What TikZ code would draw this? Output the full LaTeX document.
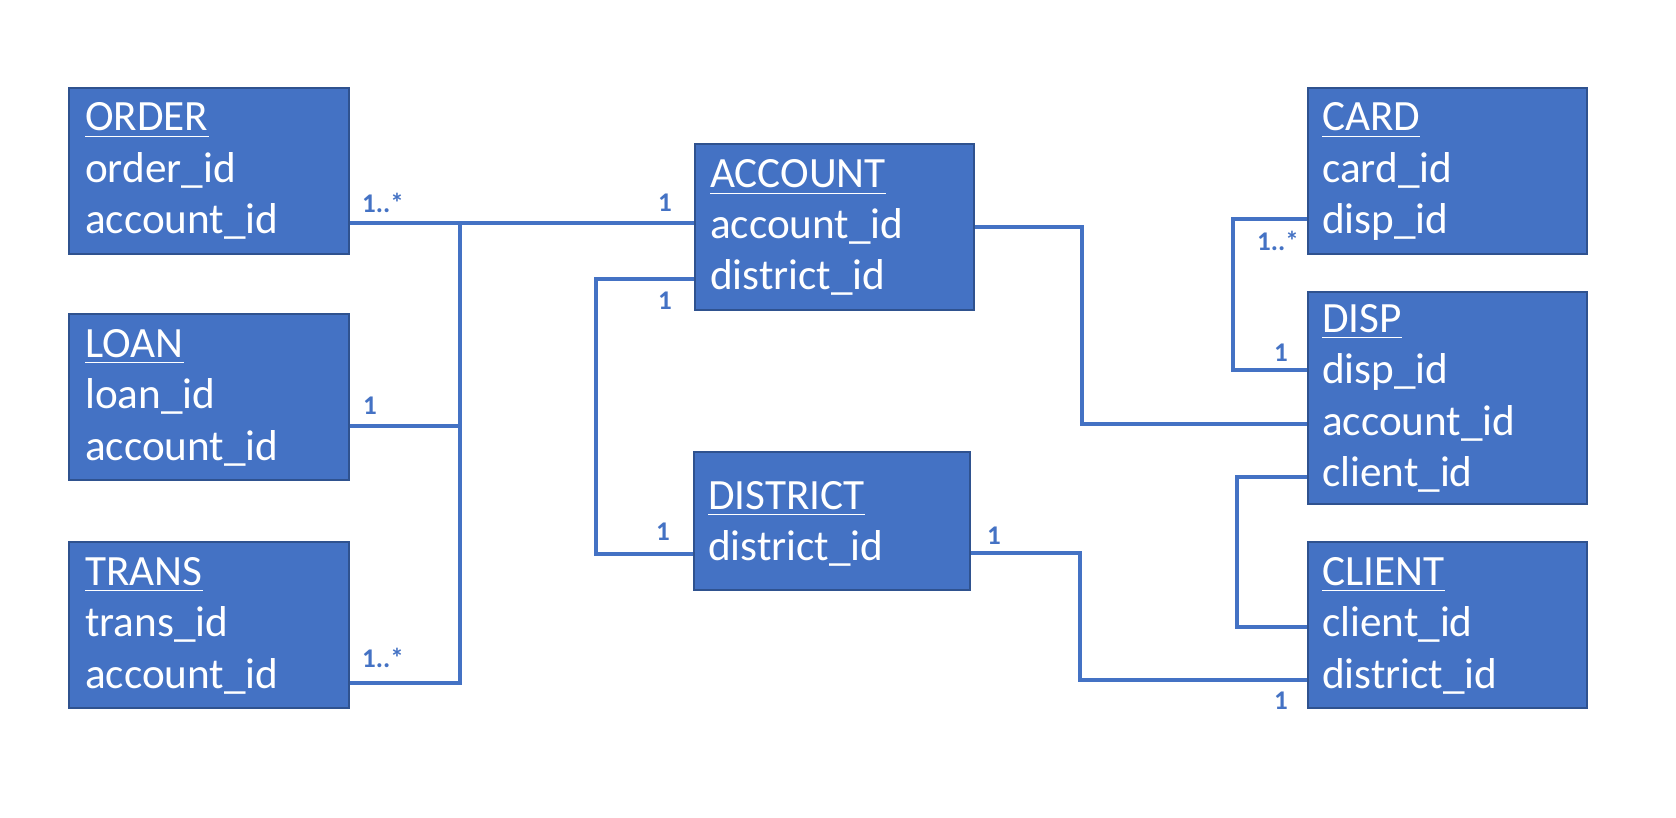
\documentclass[tikz,border=0pt]{standalone}
\usepackage{fontspec}
\setmainfont{Carlito}
\definecolor{boxfill}{HTML}{4472C4}
\definecolor{boxline}{HTML}{2F528F}
\definecolor{conncol}{HTML}{4472C4}
\begin{document}
\begin{tikzpicture}[x=1pt,y=-1pt,
  tbl/.style={draw=boxline, line width=2pt, fill=boxfill, rectangle, anchor=north west, inner sep=0pt},
  fld/.style={text=white, inner sep=0pt, anchor=base west, font=\fontsize{43.2}{50}\selectfont},
  ul/.style={draw=white, line width=1.6pt},
  conn/.style={draw=conncol, line width=3.4pt},
  mult/.style={text=conncol, inner sep=0pt, anchor=base west, font=\fontsize{27}{30}\selectfont\bfseries}]
\fill[white] (0,0) rectangle (1676,818);
\useasboundingbox (0,0) rectangle (1676,818);

% ---------- boxes ----------
\node[tbl, minimum width=280pt, minimum height=166pt] (order) at (68,87) {};
\node[tbl, minimum width=280pt, minimum height=166pt] (loan) at (68,313) {};
\node[tbl, minimum width=280pt, minimum height=166pt] (trans) at (68,541) {};
\node[tbl, minimum width=279pt, minimum height=166pt] (account) at (694,143) {};
\node[tbl, minimum width=276pt, minimum height=138pt] (district) at (693,451) {};
\node[tbl, minimum width=279pt, minimum height=166pt] (card) at (1307,87) {};
\node[tbl, minimum width=279pt, minimum height=212pt] (disp) at (1307,291) {};
\node[tbl, minimum width=279pt, minimum height=166pt] (client) at (1307,541) {};

% ---------- texts ----------
\node[fld] (orderT) at (85,131) {ORDER};
\node[fld] (orderA) at (85,182.5) {order\_id};
\node[fld] (orderB) at (85,234) {account\_id};

\node[fld] (loanT) at (85,357) {LOAN};
\node[fld] (loanA) at (85,408.5) {loan\_id};
\node[fld] (loanB) at (85,460) {account\_id};

\node[fld] (transT) at (85,585) {TRANS};
\node[fld] (transA) at (85,636.5) {trans\_id};
\node[fld] (transB) at (85,688) {account\_id};

\node[fld] (accountT) at (710,188) {ACCOUNT};
\node[fld] (accountA) at (710,239) {account\_id};
\node[fld] (accountB) at (710,290) {district\_id};

\node[fld] (districtT) at (708,509) {DISTRICT};
\node[fld] (districtA) at (708,560) {district\_id};

\node[fld] (cardT) at (1322,131) {CARD};
\node[fld] (cardA) at (1322,182.5) {card\_id};
\node[fld] (cardB) at (1322,234) {disp\_id};

\node[fld] (dispT) at (1322,332) {DISP};
\node[fld] (dispA) at (1322,383.5) {disp\_id};
\node[fld] (dispB) at (1322,435) {account\_id};
\node[fld] (dispC) at (1322,486) {client\_id};

\node[fld] (clientT) at (1322,585) {CLIENT};
\node[fld] (clientA) at (1322,636.5) {client\_id};
\node[fld] (clientB) at (1322,688) {district\_id};

% underlines
\foreach \n in {orderT,loanT,transT,accountT,districtT,cardT,dispT,clientT}{
  \draw[ul] ([yshift=-5.5pt]\n.base west) -- ([yshift=-5.5pt]\n.base east);
}

% ---------- connectors ----------
\coordinate (trunk) at (460,223);
\coordinate (dv) at (596,400);
\coordinate (av) at (1082,300);
\coordinate (cv) at (1233,300);
\coordinate (lv) at (1237,550);
\coordinate (rv) at (1080,600);

\draw[conn] ([yshift=-136pt]order.north east) -- ([yshift=-80pt]account.north west);
\draw[conn] (trunk) |- ([yshift=-113pt]loan.north east);
\draw[conn] (trunk) |- ([yshift=-142pt]trans.north east);
\draw[conn] ([yshift=-103pt]district.north west) -| (dv) |- ([yshift=-136pt]account.north west);
\draw[conn] ([yshift=-84pt]account.north east) -| (av) |- ([yshift=-133pt]disp.north west);
\draw[conn] ([yshift=-132pt]card.north west) -| (cv) |- ([yshift=-79pt]disp.north west);
\draw[conn] ([yshift=-186pt]disp.north west) -| (lv) |- ([yshift=-86pt]client.north west);
\draw[conn] ([yshift=-102pt]district.north east) -| (rv) |- ([yshift=-139pt]client.north west);

% ---------- multiplicities ----------
\node[mult] (m1) at (362,213) {1..*};
\node[mult] (m2) at (658,212) {1};
\node[mult] (m3) at (658,310) {1};
\node[mult] (m4) at (363,414) {1};
\node[mult] (m5) at (362,667) {1..*};
\node[mult] (m6) at (656,540) {1};
\node[mult] (m7) at (987,544) {1};
\node[mult] (m8) at (1257,251) {1..*};
\node[mult] (m9) at (1274,361) {1};
\node[mult] (m10) at (1274,709) {1};
\end{tikzpicture}
\end{document}
